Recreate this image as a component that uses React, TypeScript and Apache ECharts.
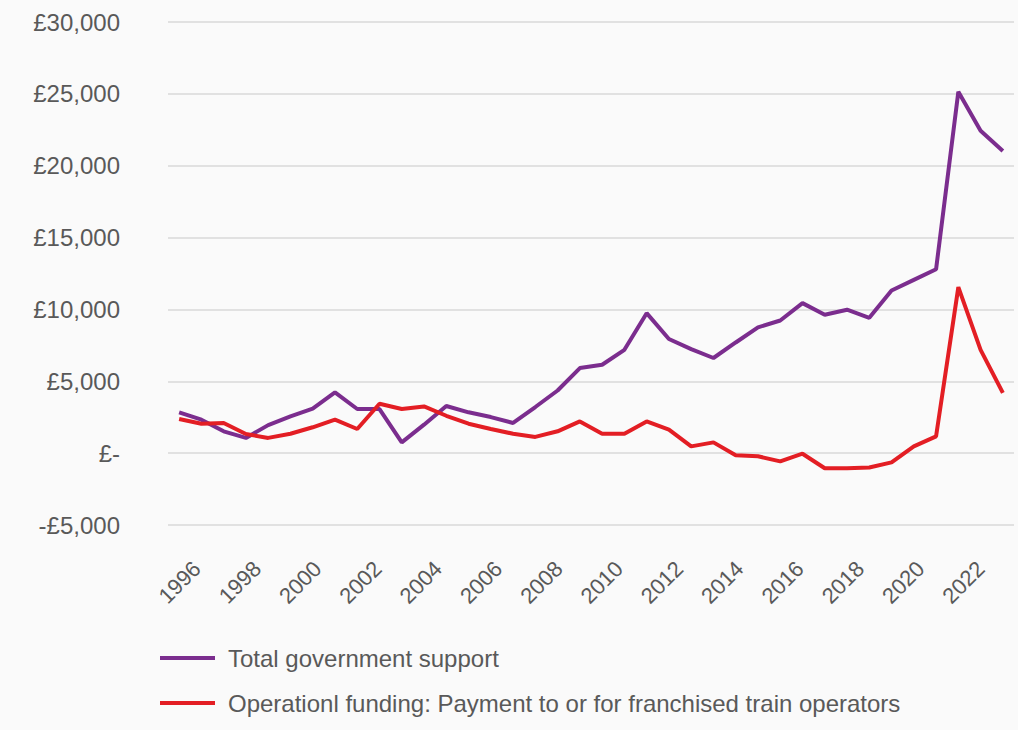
import React, { useEffect, useRef } from "react";
import * as echarts from "echarts";

// Hidden data categories (one per plotted point)
const categories: string[] = [
  "1985-86", "1986-87", "1987-88", "1988-89", "1989-90", "1990-91", "1991-92", "1992-93",
  "1993-94", "1994-95", "1995-96", "1996-97", "1997-98", "1998-99", "1999-00", "2000-01",
  "2001-02", "2002-03", "2003-04", "2004-05", "2005-06", "2006-07", "2007-08", "2008-09",
  "2009-10", "2010-11", "2011-12", "2012-13", "2013-14", "2014-15", "2015-16", "2016-17",
  "2017-18", "2018-19", "2019-20", "2020-21", "2021-22", "2022-23",
];

// Visible x tick labels
const tickYears: number[] = [1996, 1998, 2000, 2002, 2004, 2006, 2008, 2010, 2012, 2014, 2016, 2018, 2020, 2022];

const totalSupport: number[] = [
  2840, 2330, 1520, 1060, 1950, 2560, 3100, 4230, 3070, 3070,
  750, 1980, 3280, 2840, 2510, 2100, 3210, 4360, 5920, 6150,
  7190, 9740, 7940, 7240, 6620, 7700, 8750, 9230, 10440, 9630,
  9980, 9420, 11320, 12060, 12800, 25150, 22440, 21030,
];

const operationalFunding: number[] = [
  2380, 2050, 2100, 1330, 1060, 1350, 1800, 2330, 1680, 3440,
  3070, 3250, 2600, 2050, 1680, 1350, 1130, 1520, 2210, 1350,
  1350, 2210, 1630, 470, 750, -150, -220, -570, -40, -1050,
  -1050, -1000, -640, 470, 1170, 11550, 7190, 4190,
];

const seriesNames = [
  "Total government support",
  "Operationl funding: Payment to or for franchised train operators",
];

const FONT = "'Liberation Sans', Arial, sans-serif";
const GREY = "#595959";

function fmtPound(v: number): string {
  if (v === 0) return "£-";
  const s = Math.abs(v).toLocaleString("en-GB");
  return (v < 0 ? "-£" : "£") + s;
}

export default function App() {
  const ref = useRef<HTMLDivElement>(null);
  useEffect(() => {
    if (!ref.current) return;
    const chart = echarts.init(ref.current, undefined, { renderer: "svg" });
    chart.setOption({
      animation: false,
      backgroundColor: "#fafafa",
      textStyle: { fontFamily: FONT },
      grid: { left: 168, right: 4, top: 22, bottom: 205, containLabel: false },
      xAxis: [
        {
          type: "category",
          data: categories,
          boundaryGap: true,
          show: false,
        },
        {
          type: "value",
          position: "bottom",
          min: 1995.04,
          max: 2023.1,
          axisLine: { show: false },
          axisTick: { show: false },
          splitLine: { show: false },
          axisLabel: {
            customValues: tickYears,
            rotate: 45,
            margin: 40,
            fontSize: 22,
            color: GREY,
            fontFamily: FONT,
            formatter: (v: number) => String(Math.round(v)),
          },
        },
      ],
      yAxis: {
        type: "value",
        min: -5000,
        max: 30000,
        interval: 5000,
        axisLine: { show: false },
        axisTick: { show: false },
        splitLine: { lineStyle: { color: "#d9d9d9", width: 1.5 } },
        axisLabel: {
          margin: 48,
          fontSize: 24,
          color: GREY,
          fontFamily: FONT,
          formatter: (v: number) => fmtPound(v),
        },
      },
      legend: {
        orient: "vertical",
        left: 155,
        top: 639,
        icon: "rect",
        itemWidth: 55,
        itemHeight: 4,
        itemGap: 17,
        textStyle: { fontSize: 24, color: GREY, fontFamily: FONT, lineHeight: 28, padding: [0, 0, 0, 8] },
        data: seriesNames,
      },
      series: [
        {
          name: seriesNames[0],
          type: "line",
          xAxisIndex: 0,
          data: totalSupport,
          showSymbol: false,
          symbol: "none",
          lineStyle: { color: "#7b2d8e", width: 4 },
          itemStyle: { color: "#7b2d8e" },
        },
        {
          name: seriesNames[1],
          type: "line",
          xAxisIndex: 0,
          data: operationalFunding,
          showSymbol: false,
          symbol: "none",
          lineStyle: { color: "#e31e24", width: 4 },
          itemStyle: { color: "#e31e24" },
        },
      ],
    });
    return () => chart.dispose();
  }, []);
  return (
    <div
      ref={ref}
      style={{ position: "fixed", left: 0, top: 0, width: 1018, height: 730 }}
    />
  );
}
